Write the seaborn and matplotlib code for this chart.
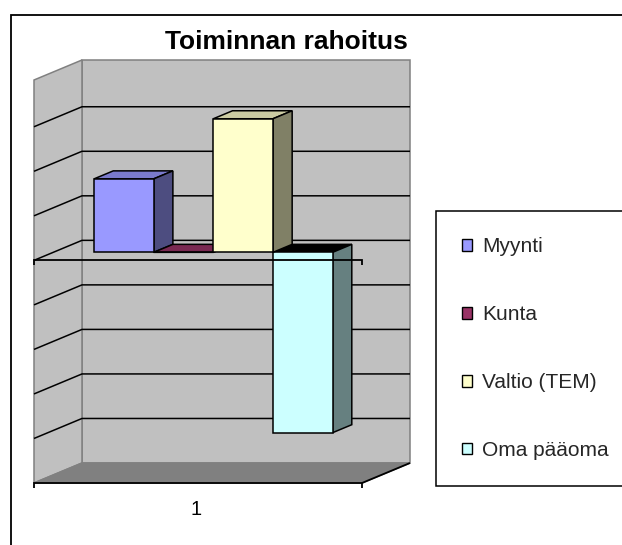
import numpy as np
import pandas as pd
import matplotlib
matplotlib.use("Agg")
import matplotlib.pyplot as plt
import matplotlib.patches as mpatches
import matplotlib.transforms as mtransforms
from matplotlib.lines import Line2D
import seaborn as sns

# Tiedot
luokat = ["1"]
sarjat = ["Myynti", "Kunta", "Valtio (TEM)", "Oma pääoma"]
arvot = [16.5, 0, 30, -40.5]
akseli_min, akseli_max, askel = -50, 40, 10

# Excelin vanhat oletusvarit: etusivu, kylki, katto
etu_varit = ["#9999FF", "#993366", "#FFFFCC", "#CCFFFF"]
sivu_varit = ["#4D4D80", "#4D1A33", "#808066", "#668080"]
katto_varit = ["#7A7ACC", "#7A2952", "#CCCCA3", "#000000"]

W, H = 622, 545
SYV = np.array([48.0, 20.0])   # syvyyssuunta pikseleina (etu -> taka)
PALKKI_ETU, PALKKI_TAKA = 0.4, 0.8

sns.set_theme(style="white")
plt.rcParams["font.family"] = ["Liberation Sans", "DejaVu Sans"]

fig = plt.figure(figsize=(W / 100, H / 100), dpi=100)
fig.patch.set_facecolor("white")
ax = fig.add_axes([34 / W, 62 / H, 328 / W, 403 / H])

df = pd.DataFrame({"luokka": luokat * len(sarjat), "sarja": sarjat, "arvo": arvot})
sns.barplot(data=df, x="luokka", y="arvo", hue="sarja", hue_order=sarjat,
            palette=etu_varit, saturation=1, width=0.8, errorbar=None,
            legend=False, edgecolor="black", linewidth=1.1, ax=ax)
palkit = list(ax.patches)

ax.set_xlim(-0.537, 0.563)
ax.set_ylim(akseli_min, akseli_max + 0.5)
ax.axis("off")

ID = mtransforms.IdentityTransform()


def proj(x, y, d):
    return ax.transData.transform((x, y)) + d * SYV


def monikulmio(pisteet, fc, ec, lw, z):
    p = mpatches.Polygon(np.array(pisteet), closed=True, facecolor=fc, edgecolor=ec,
                         linewidth=lw, transform=ID, clip_on=False, zorder=z)
    ax.add_patch(p)


def viiva(pisteet, color, lw, z):
    pts = np.array(pisteet)
    ax.add_line(Line2D(pts[:, 0], pts[:, 1], color=color, linewidth=lw,
                       transform=ID, clip_on=False, zorder=z,
                       solid_joinstyle="miter", solid_capstyle="butt"))


x0, x1 = ax.get_xlim()
y0, y1 = ax.get_ylim()

# seinat ja lattia
monikulmio([proj(x0, y0, 1), proj(x1, y0, 1), proj(x1, y1, 1), proj(x0, y1, 1)],
           "#C0C0C0", "#808080", 1.1, 0.5)
monikulmio([proj(x0, y0, 0), proj(x0, y0, 1), proj(x0, y1, 1), proj(x0, y1, 0)],
           "#C0C0C0", "#808080", 1.1, 0.5)
monikulmio([proj(x0, y0, 0), proj(x1, y0, 0), proj(x1, y0, 1), proj(x0, y0, 1)],
           "#808080", "#808080", 1.1, 0.55)

# apuviivat
for v in np.arange(akseli_min + askel, akseli_max, askel):
    viiva([proj(x0, v, 0), proj(x0, v, 1), proj(x1, v, 1)], "black", 1.1, 0.6)

# palkit 3D-muodossa
siirto = mtransforms.Affine2D().translate(*(PALKKI_ETU * SYV))
for i, p in enumerate(palkit):
    arvo = arvot[i]
    x, w = p.get_x(), p.get_width()
    ya, yy = min(0, arvo), max(0, arvo)
    z = 2 if arvo < 0 else 3
    monikulmio([proj(x, yy, PALKKI_ETU), proj(x + w, yy, PALKKI_ETU),
                proj(x + w, yy, PALKKI_TAKA), proj(x, yy, PALKKI_TAKA)],
               katto_varit[i], "black", 1.1, z)
    monikulmio([proj(x + w, ya, PALKKI_ETU), proj(x + w, ya, PALKKI_TAKA),
                proj(x + w, yy, PALKKI_TAKA), proj(x + w, yy, PALKKI_ETU)],
               sivu_varit[i], "black", 1.1, z)
    p.set_transform(ax.transData + siirto)
    p.set_clip_on(False)
    p.set_zorder(z + 0.1)

# etureunan akselit
tikki = np.array([0, -5])
for v in (0, akseli_min):
    a, b = proj(x0, v, 0), proj(x1, v, 0)
    viiva([a + tikki, a, b, b + tikki], "black", 1.3, 5)
viiva([proj(x1, y0, 0), proj(x1, y0, 1)], "black", 1.3, 5)

ax.annotate(luokat[0], xy=(0, akseli_min), xytext=(2, -17), textcoords="offset pixels",
            ha="center", va="top", fontsize=14.5, color="black", annotation_clip=False)

fig.text(286 / W, 1 - 49 / H, "Toiminnan rahoitus", ha="center", va="baseline",
         fontsize=19, fontweight="bold", color="black")

kahvat = [mpatches.Patch(facecolor=p.get_facecolor(), edgecolor="black", linewidth=1.0)
          for p in palkit]
leg = fig.legend(kahvat, sarjat, loc="upper left", bbox_to_anchor=(436 / W, 1 - 211 / H),
                 bbox_transform=fig.transFigure, frameon=True, fancybox=False,
                 edgecolor="black", framealpha=1, fontsize=15, handlelength=0.5,
                 handleheight=0.5, handletextpad=0.45, labelspacing=2.35,
                 borderpad=1.25, borderaxespad=0)
leg.get_frame().set_linewidth(1.1)

# kaavion ulkokehys
fig.add_artist(mpatches.Rectangle((11 / W, -0.1), 1.2, 1 - 15 / H + 0.1,
                                  transform=fig.transFigure, fill=False,
                                  edgecolor="black", linewidth=1.3))

fig.savefig("out.png", dpi=100)
